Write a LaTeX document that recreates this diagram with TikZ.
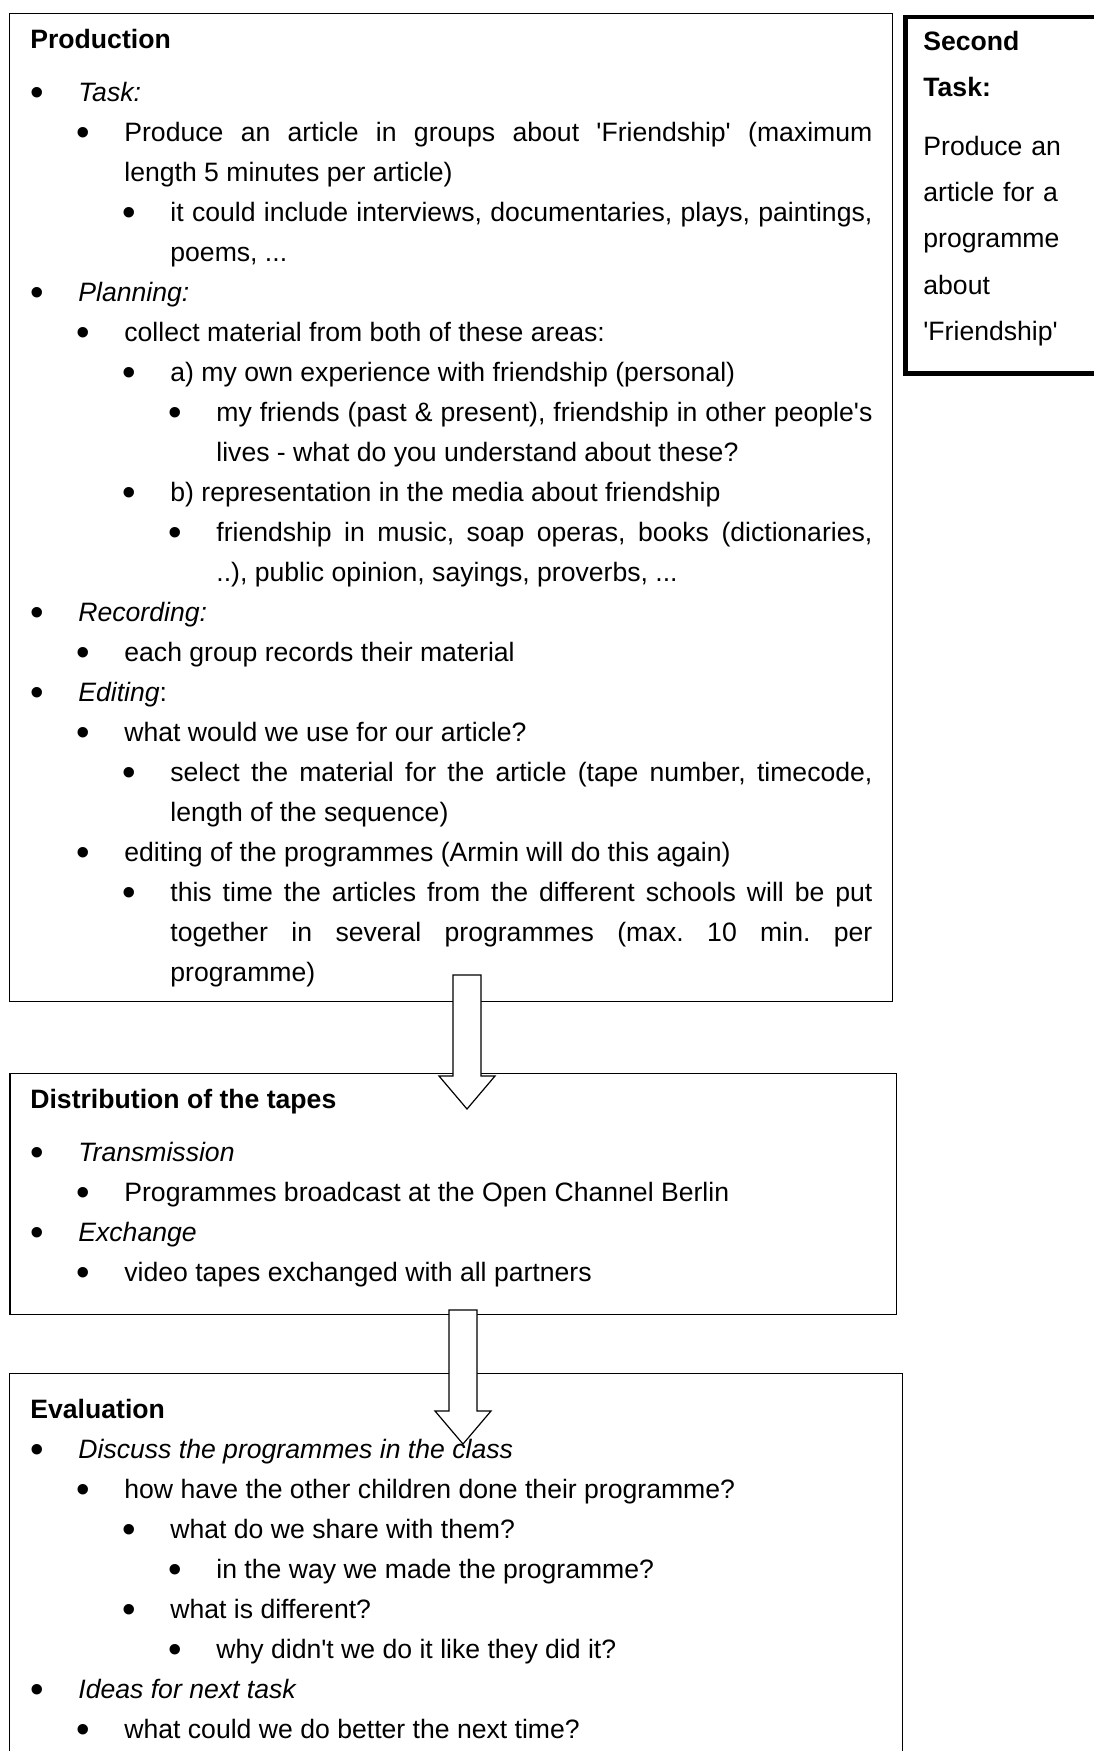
\documentclass[tikz,border=0pt]{standalone}
\usepackage{fontspec}
\setmainfont{Liberation Sans}[Ligatures=TeXOff]
\usetikzlibrary{calc}

% one bullet item: #1 = level, #2 = text
\newcommand{\bul}[2]{\par\leftskip=\dimexpr 1pt+23pt*#1\relax
  \noindent\llap{\makebox[24pt][l]{\raisebox{-2.2pt}{\scalebox{1.45}{\textbullet}}}}#2}
\hyphenpenalty=10000
\exhyphenpenalty=10000

\begin{document}
\begin{tikzpicture}[
			x=0.5pt, y=-0.5pt,
			box/.style  = {draw, line width=0.6pt, anchor=north west, inner sep=0pt},
			thickbox/.style = {box, line width=2.4pt},
			txt/.style  = {anchor=base west, inner sep=0pt, text width=421pt, align=justify,
				font=\fontsize{13.3pt}{20pt}\selectfont\frenchspacing},
			fatarrow/.style = {draw, fill=white, line width=0.6pt, line join=miter}]
			
			\useasboundingbox (0,0) rectangle (1093,1751);
			
			% the four frames
			\node[box, minimum width=441.5pt, minimum height=494pt] (prod) at (9,12.5) {};
			\node[thickbox, minimum width=104pt, minimum height=178.3pt] (second) at (903,14.5) {};
			\node[box, minimum width=443.3pt, minimum height=120.7pt] (dist) at (9.3,1072.7) {};
			\node[box, minimum width=446.3pt, minimum height=210pt] (eval) at (9,1373) {};
			
			% block arrows between the frames
			\coordinate (a1top) at (467,975);
			\coordinate (a1tip) at (467,1109);
			\coordinate (a2top) at (463,1310);
			\coordinate (a2tip) at (463,1444);
			\foreach \s/\e in {a1top/a1tip, a2top/a2tip}
			\draw[fatarrow] ($(\s)+(-14,0)$) -- ($(\e)+(-14,-33)$) -- ($(\e)+(-28,-33)$)
				-- (\e) -- ($(\e)+(28,-33)$) -- ($(\e)+(14,-33)$) -- ($(\s)+(14,0)$) -- cycle;
			
			% texts
			\node[txt] (prodtext) at (30,48) {%
				{\bfseries Production}\par\vspace{6.5pt}
				\bul{1}{\textit{Task:}}
				\bul{2}{Produce an article in groups about 'Friendship' (maximum\linebreak length 5 minutes per article)}
				\bul{3}{it could include interviews, documentaries, plays, paintings,\linebreak poems, ...}
				\bul{1}{\textit{Planning:}}
				\bul{2}{collect material from both of these areas:}
				\bul{3}{a) my own experience with friendship (personal)}
				\bul{4}{my friends (past \& present), friendship in other people's\linebreak lives - what do you understand about these?}
				\bul{3}{b) representation in the media about friendship}
				\bul{4}{friendship in music, soap operas, books (dictionaries,\linebreak ..), public opinion, sayings, proverbs, ...}
				\bul{1}{\textit{Recording:}}
				\bul{2}{each group records their material}
				\bul{1}{\textit{Editing}:}
				\bul{2}{what would we use for our article?}
				\bul{3}{select the material for the article (tape number, timecode,\linebreak length of the sequence)}
				\bul{2}{editing of the programmes (Armin will do this again)}
				\bul{3}{this time the articles from the different schools will be put\linebreak together in several programmes (max. 10 min. per\linebreak programme)}\par};
			
			\node[txt, text width=100pt, align=left,
				font=\fontsize{13.3pt}{23.15pt}\selectfont] (secondtext) at (923,50) {%
				{\bfseries Second\\Task:}\par\vspace{6.35pt}
				Produce an\\article for a\\programme\\about\\'Friendship'};
			
			\node[txt] (disttext) at (30,1108) {%
				{\bfseries Distribution of the tapes}\par\vspace{6.5pt}
				\bul{1}{\textit{Transmission}}
				\bul{2}{Programmes broadcast at the Open Channel Berlin}
				\bul{1}{\textit{Exchange}}
				\bul{2}{video tapes exchanged with all partners}\par};
			
			\node[txt] (evaltext) at (30,1418) {%
				{\bfseries Evaluation}
				\bul{1}{\textit{Discuss the programmes in the class}}
				\bul{2}{how have the other children done their programme?}
				\bul{3}{what do we share with them?}
				\bul{4}{in the way we made the programme?}
				\bul{3}{what is different?}
				\bul{4}{why didn't we do it like they did it?}
				\bul{1}{\textit{Ideas for next task}}
				\bul{2}{what could we do better the next time?}\par};
		\end{tikzpicture}
\end{document}
